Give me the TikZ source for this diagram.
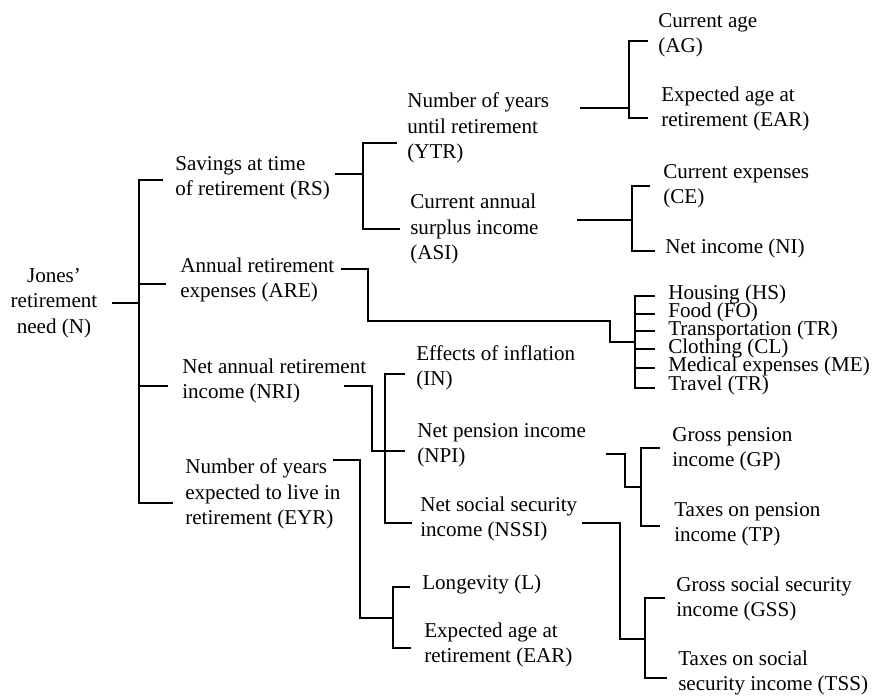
\documentclass[tikz,border=0pt]{standalone}
\usepackage{fontspec}
\setmainfont{Liberation Serif}
\usetikzlibrary{calc}

\newcommand{\treefont}{\fontsize{15}{18.1}\selectfont}
\tikzset{
  leaf/.style={anchor=west, inner sep=0pt, align=left, font=\treefont},
  tie/.style={line width=1.35pt},
}

\begin{document}
\begin{tikzpicture}[x=0.025cm,y=-0.025cm]
\useasboundingbox (0,0) rectangle (872,697);

\node[leaf, anchor=center, align=center] (N) at (54,303) {Jones'\\retirement\\need (N)};

\node[leaf] (RS) at (175,178) {Savings at time\\of retirement (RS)};
\node[leaf] (ARE) at (180,280) {Annual retirement\\expenses (ARE)};
\node[leaf] (NRI) at (182,381) {Net annual retirement\\income (NRI)};
\node[leaf] (EYR) at (185,494) {Number of years\\expected to live in\\retirement (EYR)};

\node[leaf] (YTR) at (407,128) {Number of years\\until retirement\\(YTR)};
\node[leaf] (ASI) at (410,229) {Current annual\\surplus income\\(ASI)};
\node[leaf] (IN) at (416,368) {Effects of inflation\\(IN)};
\node[leaf] (NPI) at (417,445) {Net pension income\\(NPI)};
\node[leaf] (NSSI) at (420,519) {Net social security\\income (NSSI)};
\node[leaf] (L) at (422,584) {Longevity (L)};
\node[leaf] (EAR2) at (424,645) {Expected age at\\retirement (EAR)};

\node[leaf] (AG) at (658,35) {Current age\\(AG)};
\node[leaf] (EAR1) at (661,109) {Expected age at\\retirement (EAR)};
\node[leaf] (CE) at (663,186) {Current expenses\\(CE)};
\node[leaf] (NI) at (665,248) {Net income (NI)};

\node[leaf] (HS) at (668,294) {Housing (HS)};
\node[leaf] (FO) at (668,312) {Food (FO)};
\node[leaf] (TRA) at (668,330) {Transportation (TR)};
\node[leaf] (CL) at (668,348) {Clothing (CL)};
\node[leaf] (ME) at (668,366) {Medical expenses (ME)};
\node[leaf] (TRV) at (668,385) {Travel (TR)};

\node[leaf] (GP) at (672,449) {Gross pension\\income (GP)};
\node[leaf] (TP) at (674,524) {Taxes on pension\\income (TP)};
\node[leaf] (GSS) at (676,599) {Gross social security\\income (GSS)};
\node[leaf] (TSS) at (678,673) {Taxes on social\\security income (TSS)};

\coordinate (jN) at (139,303);
\coordinate (jRS) at (363,174);
\coordinate (jARE) at (635,342);
\coordinate (jYTR) at (629,108);
\coordinate (jASI) at (632,220);
\coordinate (jNRI) at (385,451);
\coordinate (jNPI) at (641,487);
\coordinate (jNSSI) at (645,639);
\coordinate (jEYR) at (393,618);

\draw[tie] ($(N.east)+(14,0)$) -- (jN);
\draw[tie] ($(RS.west)+(-12,2)$) -| ($(jN |- EYR.west)+(0,9)$) -- ($(EYR.west)+(-12,9)$);
\draw[tie] ($(jN |- ARE.west)+(0,4)$) -- ($(ARE.west)+(-14,4)$);
\draw[tie] ($(jN |- NRI.west)+(0,5)$) -- ($(NRI.west)+(-14,5)$);

\draw[tie] ($(RS.east)+(5,-4)$) -- (jRS);
\draw[tie] ($(YTR.west)+(-10,15)$) -| (jRS |- ASI.west) -- ($(ASI.west)+(-10,0)$);

\draw[tie] ($(ARE.east)+(6,-11)$) -| (368,321) -| (610,342) -- (jARE);
\draw[tie] ($(HS.west)+(-13,2)$) -| ($(jARE |- TRV.west)+(0,3)$) -- ($(TRV.west)+(-13,3)$);
\draw[tie] ($(jARE |- FO.west)+(0,2)$) -- ($(FO.west)+(-13,2)$);
\draw[tie] ($(jARE |- TRA.west)+(0,1)$) -- ($(TRA.west)+(-13,1)$);
\draw[tie] ($(jARE |- CL.west)+(0,1)$) -- ($(CL.west)+(-13,1)$);
\draw[tie] ($(jARE |- ME.west)+(0,2)$) -- ($(ME.west)+(-13,2)$);

\draw[tie] ($(YTR.east)+(31,-20)$) -- (jYTR);
\draw[tie] ($(AG.west)+(-10,6)$) -| ($(jYTR |- EAR1.west)+(0,9)$) -- ($(EAR1.west)+(-13,9)$);

\draw[tie] ($(ASI.east)+(38,-9)$) -- (jASI);
\draw[tie] ($(CE.west)+(-13,0)$) -| ($(jASI |- NI.west)+(0,3)$) -- ($(NI.west)+(-10,3)$);

\draw[tie] ($(NRI.east)+(-22,5)$) -| (372,451) -- (jNRI);
\draw[tie] ($(IN.west)+(-11,6)$) -| ($(jNRI |- NSSI.west)+(0,4)$) -- ($(NSSI.west)+(-8,4)$);
\draw[tie] (jNRI) -- ($(NPI.west)+(-12,6)$);

\draw[tie] ($(NPI.east)+(20,9)$) -| (625,487) -- (jNPI);
\draw[tie] ($(GP.west)+(-12,-1)$) -| ($(jNPI |- TP.west)+(0,2)$) -- ($(TP.west)+(-14,2)$);

\draw[tie] ($(NSSI.east)+(4,4)$) -| (620,639) -- (jNSSI);
\draw[tie] ($(GSS.west)+(-11,-1)$) -| ($(jNSSI |- TSS.west)+(0,5)$) -- ($(TSS.west)+(-11,5)$);

\draw[tie] ($(EYR.north east)+(-8,1)$) -| (360,618) -- (jEYR);
\draw[tie] ($(L.west)+(-12,3)$) -| ($(jEYR |- EAR2.west)+(0,3)$) -- ($(EAR2.west)+(-13,3)$);

\end{tikzpicture}
\end{document}
